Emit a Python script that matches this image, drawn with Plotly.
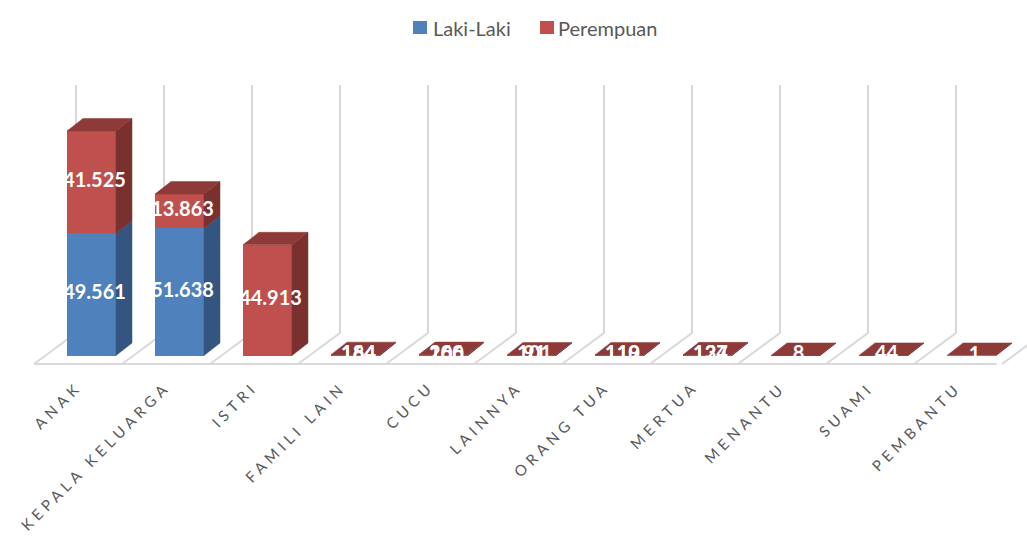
import plotly.graph_objects as go

# ---------------- data ----------------
categories = ["ANAK", "KEPALA KELUARGA", "ISTRI", "FAMILI LAIN", "CUCU", "LAINNYA",
              "ORANG TUA", "MERTUA", "MENANTU", "SUAMI", "PEMBANTU"]
laki = [49561, 51638, 0, 164, 200, 91, 110, 124, 0, 44, 0]
perempuan = [41525, 13863, 44913, 184, 166, 101, 119, 137, 8, 0, 1]
series_names = ["Laki-Laki", "Perempuan"]

# ---------------- styling / geometry ----------------
W, H = 1027, 543
X0, SX = 91.5, 88.0        # px of first category centre, px per category
Y0, K = 355.5, 2.465e-3    # px of value 0, px per value unit
BW = 49 / SX               # bar width in category units
DX, DY = 16 / SX, 12.5 / K # 3D depth offset (right / up)

C_BLUE, C_BLUE_SIDE = "#4F81BD", "#34557F"
C_RED, C_RED_SIDE, C_RED_TOP = "#C0504D", "#7A302F", "#8E3A38"
GRID = "#D9D9D9"
TXT = "#595959"


def xu(px):
    return (px - X0) / SX


def yu(py):
    return (Y0 - py) / K


n = len(categories)
idx = list(range(n))

fig = go.Figure()

# front faces
fig.add_trace(go.Bar(x=idx, y=laki, width=BW, name=series_names[0],
                     marker=dict(color=C_BLUE, line=dict(width=0)), showlegend=False,
                     hovertext=categories, hoverinfo="text+y"))
fig.add_trace(go.Bar(x=idx, y=perempuan, width=BW, name=series_names[1],
                     marker=dict(color=C_RED, line=dict(width=0)), showlegend=False,
                     hovertext=categories, hoverinfo="text+y"))

# side faces
def side_faces(bottoms, tops):
    xs, ys = [], []
    for i, (b, t) in enumerate(zip(bottoms, tops)):
        if t <= b:
            continue
        xr = i + BW / 2
        xs += [xr, xr + DX, xr + DX, xr, xr, None]
        ys += [b, b + DY, t + DY, t, b, None]
    return xs, ys

tot = [a + b for a, b in zip(laki, perempuan)]
bx, by = side_faces([0] * n, laki)
rx, ry = side_faces(laki, tot)
fig.add_trace(go.Scatter(x=bx, y=by, mode="lines", fill="toself", fillcolor=C_BLUE_SIDE,
                         line=dict(width=0.5, color=C_BLUE_SIDE), hoverinfo="skip", showlegend=False))
fig.add_trace(go.Scatter(x=rx, y=ry, mode="lines", fill="toself", fillcolor=C_RED_SIDE,
                         line=dict(width=0.5, color=C_RED_SIDE), hoverinfo="skip", showlegend=False))

# top faces
tx, ty = [], []
for i, t in enumerate(tot):
    xl, xr = i - BW / 2, i + BW / 2
    tx += [xl, xl + DX, xr + DX, xr, xl, None]
    ty += [t, t + DY, t + DY, t, t, None]
fig.add_trace(go.Scatter(x=tx, y=ty, mode="lines", fill="toself", fillcolor=C_RED_TOP,
                         line=dict(width=0.5, color=C_RED_TOP), hoverinfo="skip", showlegend=False))

# data labels
def fmt(v):
    return f"{v:,}".replace(",", ".")

lx, ly, lt = [], [], []
for i in idx:
    if laki[i] > 0:
        lx.append(i + 3 / SX); ly.append(laki[i] / 2); lt.append(fmt(laki[i]))
    if perempuan[i] > 0:
        lx.append(i + 3 / SX); ly.append(laki[i] + perempuan[i] / 2); lt.append(fmt(perempuan[i]))
fig.add_trace(go.Scatter(x=lx, y=ly, text=lt, mode="text", hoverinfo="skip", showlegend=False,
                         textfont=dict(family="Lato", size=20, color="white", weight="bold")))

# floor & back-wall grid (below the bars)
shapes = []
FRONT_PY, BACK_PY, TOP_PY = 364, 333, 85
F_OFF, B_OFF = xu(34), xu(76)
shapes.append(dict(type="line", xref="x", yref="y", layer="below",
                   x0=F_OFF, x1=F_OFF + n - 0.06, y0=yu(FRONT_PY), y1=yu(FRONT_PY),
                   line=dict(color=GRID, width=2)))
for k in range(n + 1):
    shapes.append(dict(type="line", xref="x", yref="y", layer="below",
                       x0=F_OFF + k, x1=B_OFF + k, y0=yu(FRONT_PY), y1=yu(BACK_PY),
                       line=dict(color=GRID, width=2)))
    shapes.append(dict(type="line", xref="x", yref="y", layer="below",
                       x0=B_OFF + k, x1=B_OFF + k, y0=yu(BACK_PY), y1=yu(TOP_PY),
                       line=dict(color=GRID, width=2)))

# legend swatches
shapes.append(dict(type="rect", xref="paper", yref="paper", x0=413 / W, x1=427 / W,
                   y0=1 - 34 / H, y1=1 - 21 / H, fillcolor=C_BLUE, line=dict(width=0)))
shapes.append(dict(type="rect", xref="paper", yref="paper", x0=540 / W, x1=554 / W,
                   y0=1 - 34 / H, y1=1 - 21 / H, fillcolor=C_RED, line=dict(width=0)))

annotations = []
annotations.append(dict(x=431 / W, y=1 - 28 / H, xref="paper", yref="paper", text=series_names[0],
                        showarrow=False, xanchor="left", yanchor="middle",
                        font=dict(family="Lato", size=20, color=TXT)))
annotations.append(dict(x=556 / W, y=1 - 28 / H, xref="paper", yref="paper", text=series_names[1],
                        showarrow=False, xanchor="left", yanchor="middle",
                        font=dict(family="Lato", size=20, color=TXT)))

# category labels
for i, c in enumerate(categories):
    annotations.append(dict(x=i + xu(88), y=yu(375), xref="x", yref="y",
                            text=f'<span style="letter-spacing:4.5px">{c}</span>',
                            showarrow=False, textangle=-45, xanchor="right", yanchor="top",
                            font=dict(family="Lato", size=15, color=TXT)))

fig.update_layout(
    width=W, height=H, margin=dict(l=0, r=0, t=0, b=0),
    paper_bgcolor="white", plot_bgcolor="white",
    barmode="stack", bargap=0,
    xaxis=dict(range=[xu(0), xu(W)], visible=False, fixedrange=True),
    yaxis=dict(range=[yu(H), yu(0)], visible=False, fixedrange=True),
    shapes=shapes, annotations=annotations, showlegend=False,
)

fig.write_html("out.html", config={"displayModeBar": False},
               post_script="document.body.style.margin='0';document.body.style.overflow='hidden';")
